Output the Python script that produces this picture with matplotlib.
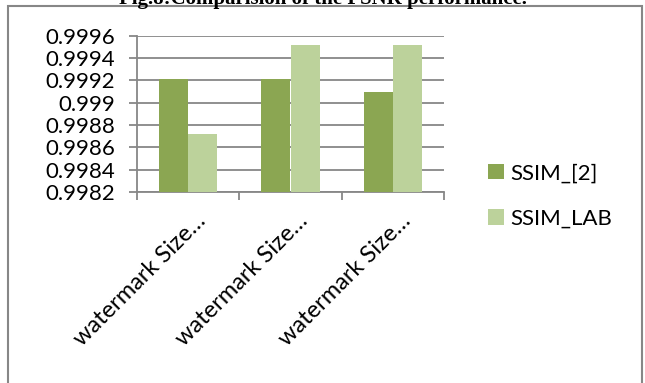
import matplotlib.pyplot as plt
import numpy as np
from matplotlib.patches import Rectangle

categories = ['watermark Size…', 'watermark Size…', 'watermark Size…']
ssim_2 = [0.99921, 0.99921, 0.99910]
ssim_lab = [0.99872, 0.99952, 0.99952]
series_names = ['SSIM_[2]', 'SSIM_LAB']
yticks = [0.9982, 0.9984, 0.9986, 0.9988, 0.999, 0.9992, 0.9994, 0.9996]
ytick_labels = ['0.9982', '0.9984', '0.9986', '0.9988', '0.999', '0.9992', '0.9994', '0.9996']

dark = '#8ba652'
light = '#bcd29b'
gray = '#878787'

plt.rcParams['font.family'] = ['Lato', 'DejaVu Sans']

fig = plt.figure(figsize=(6.45, 3.83), dpi=100)
ax_h = (192 - 35.7) / 383
ax = fig.add_axes([137/645, 1 - 192/383, (444 - 137)/645, ax_h])

x = np.arange(len(categories))
w = 0.285
ax.bar(x - w/2, ssim_2, w, color=dark, label=series_names[0], zorder=3)
ax.bar(x + w/2, ssim_lab, w, color=light, label=series_names[1], zorder=3)

ax.set_xlim(-0.5, len(categories) - 0.5)
ax.set_ylim(0.9982, 0.9996)
ax.set_yticks(yticks)
ax.set_yticklabels(ytick_labels, fontsize=16)
ax.yaxis.grid(True, color=gray, linewidth=1.3, zorder=0)
ax.tick_params(axis='y', length=6, width=1.3, color=gray, pad=10)

# category boundaries carry the tick marks, labels sit at the centres
ax.set_xticks(np.arange(len(categories) + 1) - 0.5)
ax.set_xticklabels([])
ax.tick_params(axis='x', length=6, width=1.3, color=gray)
label_y = -(210 - 192) / (ax_h * 383)
for i, lab in enumerate(categories):
    ax.text(i + 0.21, label_y, lab, transform=ax.get_xaxis_transform(),
            rotation=45, ha='right', va='top', fontsize=17)

for s in ['top', 'right']:
    ax.spines[s].set_visible(False)
for s in ['left', 'bottom']:
    ax.spines[s].set_color(gray)
    ax.spines[s].set_linewidth(1.3)

fig.legend(loc='center left', bbox_to_anchor=(468/645, 1 - 196/383),
           frameon=False, fontsize=16, handlelength=0.7, handleheight=0.7,
           handletextpad=0.3, labelspacing=1.15)

# outer chart frame
fig.patches.append(Rectangle((8/645, -0.05), (642 - 8)/645, 1.05 - 6/383,
                             transform=fig.transFigure, fill=False,
                             edgecolor=gray, linewidth=1.5))

fig.text(0.5, 1 - 4/383, 'Fig.8:Comparision of the PSNR performance.',
         family='Liberation Serif', weight='bold', fontsize=15,
         ha='center', va='baseline')

fig.savefig('out.png', dpi=100)
